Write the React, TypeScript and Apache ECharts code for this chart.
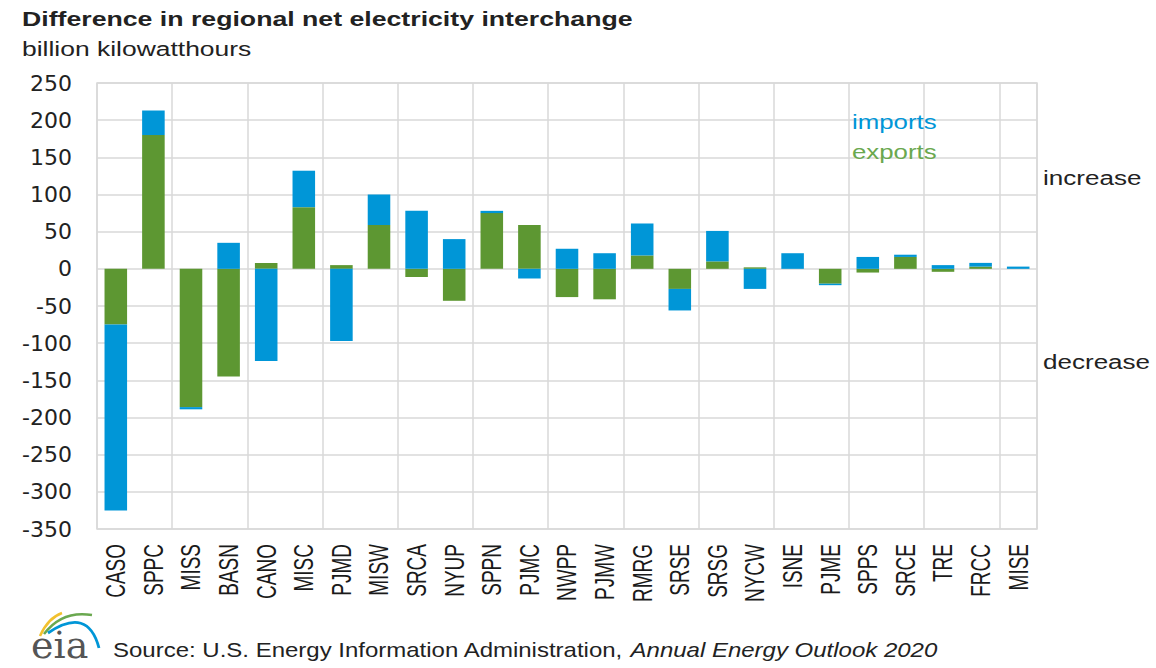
import React, { useEffect, useRef } from "react";
import * as echarts from "echarts";

const categories = ["CASO","SPPC","MISS","BASN","CANO","MISC","PJMD","MISW","SRCA","NYUP","SPPN","PJMC","NWPP","PJMW","RMRG","SRSE","SRSG","NYCW","ISNE","PJME","SPPS","SRCE","TRE","FRCC","MISE"];
const exportsData = [-75,180,-186,-145,8,83,5,59,-11,-43,75,59,-38,-41,18,-27,10,2,0,-20,-5,16,-4,3,0];
const importsData = [-250,33,-3,35,-124,49,-97,41,78,40,3,-13,27,21,43,-29,41,-27,21,-2,16,3,5,5,3];
const yMin = -350;
const yMax = 250;
const yStep = 50;

const BLUE = "#0096D7";
const GREEN = "#5D9732";
const GRID = "#D9D9D9";
const FONT = "Liberation Sans";

export default function App() {
  const ref = useRef<HTMLDivElement>(null);
  useEffect(() => {
    document.body.style.margin = "0";
    const chart = echarts.init(ref.current!, null, { renderer: "svg" });
    chart.setOption({
      animation: false,
      backgroundColor: "#fff",
      grid: { left: 97, right: 119, top: 83, height: 446, show: true, borderColor: GRID, borderWidth: 1.5 },
      xAxis: {
        type: "category",
        data: categories,
        position: "bottom",
        axisLine: { show: false, onZero: false },
        axisTick: { show: false },
        splitLine: { show: true, lineStyle: { color: GRID, width: 1.5 } },
        axisLabel: { show: false },
      },
      yAxis: {
        type: "value",
        min: yMin,
        max: yMax,
        interval: yStep,
        axisLine: { show: false },
        axisTick: { show: false },
        splitLine: { show: true, lineStyle: { color: GRID, width: 1.5 } },
        axisLabel: { margin: 25, fontSize: 22, color: "#222", fontFamily: "DejaVu Sans" },
      },
      series: [
        { name: "exports", type: "bar", stack: "total", data: exportsData, barWidth: "60%", itemStyle: { color: GREEN } },
        { name: "imports", type: "bar", stack: "total", data: importsData, barWidth: "60%", itemStyle: { color: BLUE } },
      ],
    });

    const catLabels = categories.map((c) => {
      const px = chart.convertToPixel({ xAxisIndex: 0 }, c) as number;
      return {
        type: "text",
        x: px,
        y: 544,
        rotation: Math.PI / 2,
        scaleY: 1.45,
        style: { text: c, font: `19px '${FONT}'`, fill: "#1a1a1a", align: "right", verticalAlign: "middle" },
      };
    });

    chart.setOption({
      graphic: [
        ...catLabels,
        { type: "text", x: 22, y: 8, scaleX: 1.27, style: { text: "Difference in regional net electricity interchange", font: `bold 21px '${FONT}'`, fill: "#222", verticalAlign: "top" } },
        { type: "text", x: 22, y: 38, scaleX: 1.26, style: { text: "billion kilowatthours", font: `21px '${FONT}'`, fill: "#222", verticalAlign: "top" } },
        { type: "text", x: 852, y: 111, scaleX: 1.23, style: { text: "imports", font: `21px '${FONT}'`, fill: BLUE, verticalAlign: "top" } },
        { type: "text", x: 852, y: 141, scaleX: 1.23, style: { text: "exports", font: `21px '${FONT}'`, fill: "#6AA84F", verticalAlign: "top" } },
        { type: "text", x: 1043, y: 167, scaleX: 1.24, style: { text: "increase", font: `21px '${FONT}'`, fill: "#222", verticalAlign: "top" } },
        { type: "text", x: 1043, y: 351, scaleX: 1.24, style: { text: "decrease", font: `21px '${FONT}'`, fill: "#222", verticalAlign: "top" } },
        {
          type: "text", x: 113, y: 640, scaleX: 1.2,
          style: {
            verticalAlign: "top",
            text: "{r|Source: U.S. Energy Information Administration, }{i|Annual Energy Outlook 2020}",
            rich: {
              r: { font: `20px '${FONT}'`, fill: "#222" },
              i: { font: `italic 20px '${FONT}'`, fill: "#222" },
            },
          },
        },
        { type: "text", x: 31, y: 664, style: { text: "eia", font: "38px 'DejaVu Serif'", fill: "#555", verticalAlign: "bottom" } },
        { type: "bezierCurve", shape: { x1: 40, y1: 636, x2: 62, y2: 613, cpx1: 48, cpy1: 618 }, style: { stroke: "#F2C12E", lineWidth: 2.5, fill: null } },
        { type: "bezierCurve", shape: { x1: 44, y1: 634, x2: 92, y2: 615, cpx1: 62, cpy1: 610 }, style: { stroke: "#6AA84F", lineWidth: 2.5, fill: null } },
        { type: "bezierCurve", shape: { x1: 48, y1: 633, x2: 99, y2: 648, cpx1: 88, cpy1: 606 }, style: { stroke: BLUE, lineWidth: 2.8, fill: null } },
      ],
    });
    return () => chart.dispose();
  }, []);
  return <div ref={ref} style={{ width: 1156, height: 668 }} />;
}
